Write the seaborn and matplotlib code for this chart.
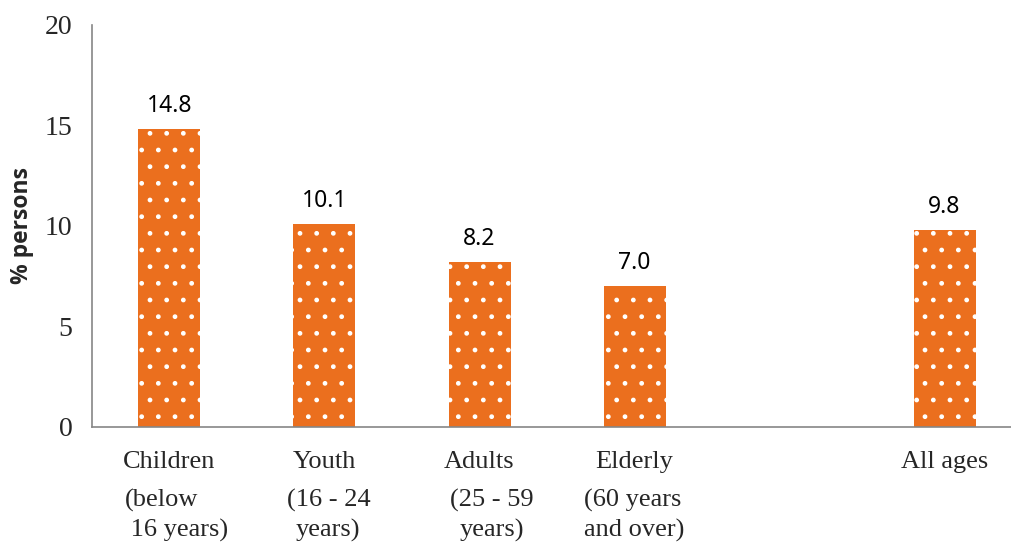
import numpy as np
import pandas as pd
import seaborn as sns
import matplotlib.pyplot as plt

# data
groups = ["Children", "Youth", "Adults", "Elderly", "", "All ages"]
subtitles = ["(below\n 16 years)", "(16 - 24\nyears)", "(25 - 59\nyears)", "(60 years\nand over)", "", ""]
pct = [14.8, 10.1, 8.2, 7.0, np.nan, 9.8]

# small horizontal nudges / alignment for the second label lines
sub_align = ["left", "center", "center", "left", "center", "center"]
sub_dx = [0.045, 0.025, 0.08, 0.0, 0.0, 0.0]

df = pd.DataFrame({"group": groups, "pct": pct})

sns.set_style("white")
plt.rcParams["hatch.linewidth"] = 1.0

fig = plt.figure(figsize=(10.12, 5.44), dpi=100)
ax = fig.add_axes([0.0909, 0.2151, 0.919, 0.739])

sns.barplot(data=df, x="group", y="pct", order=groups, color="#EB6F1E",
            width=0.4, saturation=1, ax=ax)

for bar in ax.patches:
    bar.set_hatch(".")
    bar.set_edgecolor("white")
    bar.set_linewidth(0)

# value labels above bars
ax.bar_label(ax.containers[0], fmt="%.1f", padding=8,
             fontsize=16.5, family="Noto Sans", color="black")

ax.set_xlim(-0.5, 5.5)
ax.set_ylim(0, 20)
ax.set_yticks([0, 5, 10, 15, 20])
ax.set_yticklabels(["0", "5", "10", "15", "20"], family="Liberation Serif", fontsize=20)

ax.set_xticks(range(len(groups)))
ax.set_xticklabels(groups, family="Liberation Serif", fontsize=19)
ax.set_xticks(np.arange(-0.5, 5.6, 1), minor=True)
ax.tick_params(axis="x", which="major", length=0, pad=17)
ax.tick_params(axis="x", which="minor", length=6, color="#868686", width=1.2, direction="out")
ax.tick_params(axis="y", length=6, color="#868686", width=1.2, direction="out", pad=8)

for i, (s, al, dx) in enumerate(zip(subtitles, sub_align, sub_dx)):
    if s:
        ax.text(i + dx, -0.153, s, transform=ax.get_xaxis_transform(), ha="center", va="top",
                multialignment=al, family="Liberation Serif", fontsize=19, linespacing=1.4)

ax.set_xlabel("")
ax.set_ylabel("% persons", family="Open Sans", fontweight="bold", fontsize=16.5, labelpad=8)

for side in ["top", "right"]:
    ax.spines[side].set_visible(False)
for side in ["left", "bottom"]:
    ax.spines[side].set_color("#868686")
    ax.spines[side].set_linewidth(1.2)

fig.savefig("out.png", dpi=100)
